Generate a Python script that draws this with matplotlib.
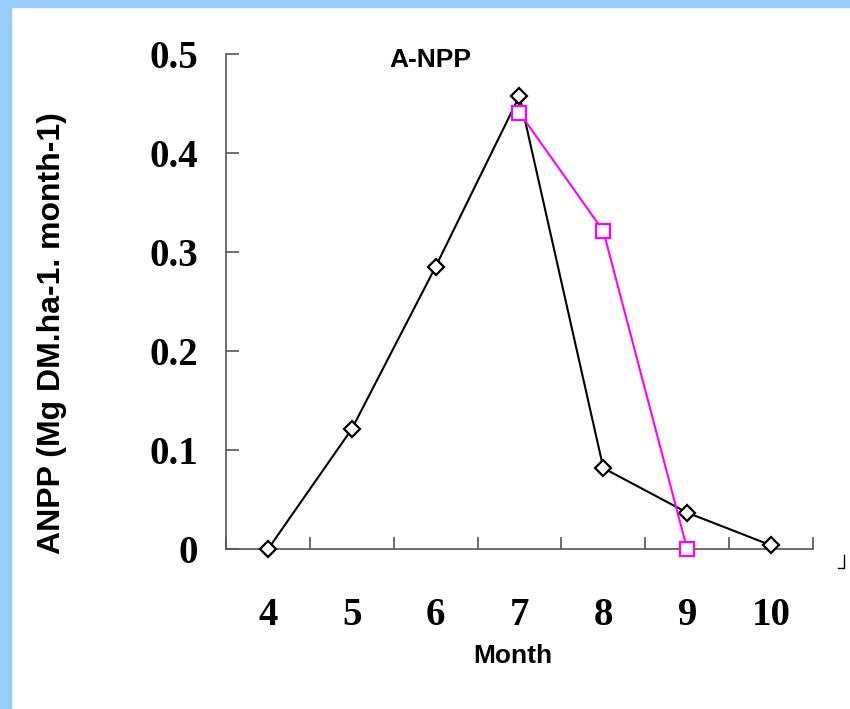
import numpy as np
import matplotlib
matplotlib.use('Agg')
import matplotlib.pyplot as plt
from matplotlib.patches import Rectangle
from matplotlib.lines import Line2D

# Datos
meses = [4, 5, 6, 7, 8, 9, 10]
anpp_negro = [0.0, 0.1215, 0.2855, 0.458, 0.082, 0.037, 0.004]
meses_rosa = [7, 8, 9]
anpp_rosa = [0.441, 0.3215, 0.0]
yticks = [0, 0.1, 0.2, 0.3, 0.4, 0.5]
ylabels = ['0', '0.1', '0.2', '0.3', '0.4', '0.5']

AZUL = '#99CCFF'
ROSA = '#FF00FF'
GRIS = '#555555'
SERIF = 'Liberation Serif'
SANS = 'Liberation Sans'

fig = plt.figure(figsize=(8.5, 7.09), dpi=100)
fig.patch.set_facecolor('white')

# marco azul (izquierda y arriba)
fig.patches.append(Rectangle((0, 0), 11/850, 1, transform=fig.transFigure,
                             color=AZUL, zorder=0))
fig.patches.append(Rectangle((0, 1 - 7/709), 1, 7/709, transform=fig.transFigure,
                             color=AZUL, zorder=0))

ax = fig.add_axes([226/850, 1 - 549.3/709, (813 - 226)/850, (549.3 - 54.3)/709])
ax.plot(meses, anpp_negro, '-', color='black', lw=1.5, marker='D', ms=8.5,
        mfc='white', mec='black', mew=1.6, zorder=3, clip_on=False)
ax.plot(meses_rosa, anpp_rosa, '-', color=ROSA, lw=1.5, marker='s', ms=9.5,
        mfc='white', mec=ROSA, mew=1.6, zorder=4, clip_on=False)

ax.set_xlim(3.5, 10.5)
ax.set_ylim(0, 0.5)
for s in ['top', 'right']:
    ax.spines[s].set_visible(False)
for s in ['left', 'bottom']:
    ax.spines[s].set_color(GRIS)
    ax.spines[s].set_linewidth(1.2)

ax.set_yticks(yticks)
ax.set_yticklabels(ylabels, fontfamily=SERIF, fontweight='bold', fontsize=28)
ax.set_xticks(meses)
ax.set_xticklabels([str(m) for m in meses], fontfamily=SERIF, fontweight='bold', fontsize=28)
ax.set_xticks(np.arange(3.5, 11, 1.0), minor=True)
ax.tick_params(axis='x', which='major', length=0, pad=34)
ax.tick_params(axis='x', which='minor', direction='in', length=9, width=1.2, color=GRIS)
ax.tick_params(axis='y', direction='in', length=9, width=1.2, color=GRIS, pad=20)

fig.text(430/850, 1 - 60/709, 'A-NPP', ha='center', va='center',
         fontfamily=SANS, fontweight='bold', fontsize=19)
fig.text(52/850, 1 - 333/709, 'ANPP (Mg DM.ha-1. month-1)', ha='center', va='center',
         rotation=90, fontfamily=SANS, fontweight='bold', fontsize=23)
fig.text(513/850, 1 - 656/709, 'Month', ha='center', va='center',
         fontfamily=SANS, fontweight='bold', fontsize=19)

# pequeña marca en la esquina inferior derecha
fig.lines.append(Line2D([838/850, 844/850, 844/850],
                        [1 - 567.7/709, 1 - 567.7/709, 1 - 555/709],
                        transform=fig.transFigure, color='black', lw=1))

fig.savefig('out.png', dpi=100)
